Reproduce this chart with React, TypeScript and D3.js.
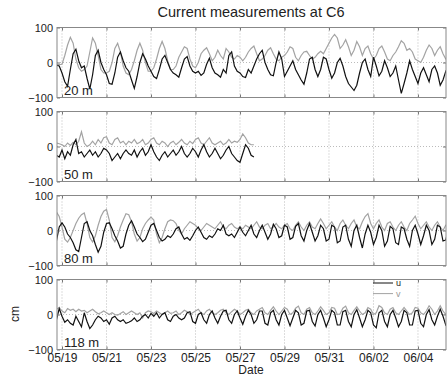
import * as d3 from "d3";
import { useRef, useEffect } from "react";

// tick labels and depths
const tickLabels = ["05/19", "05/21", "05/23", "05/25", "05/27", "05/29", "05/31", "06/02", "06/04"];
const depths = ["20 m", "50 m", "80 m", "118 m"];
const yTicks = [-100, 0, 100];

// 3-hourly samples starting 05/18 18:00 (cm/s)
const u20 = [-8, -10,
  -30, -55, -68, -20, 25, 38, 5, -15,
  -10, -45, -76, -35, 20, 35, 0, -20,
  -35, -60, -62, -30, 15, 30, 5, -15,
  -25, -50, -74, -40, 0, 25, 10, -10,
  -25, -40, -46, -20, 10, 20, 0, -20,
  -30, -35, -42, -15, 10, 17, -10, -25,
  -30, -25, -37, -30, -5, 12, -15, -30,
  -35, -42, -20, -30, 20, 30, -10, -25,
  -30, -40, -43, -20, -30, -10, 10, 25,
  35, 0, -20, -35, -38, 0, 30, 10,
  -40, -25, -10, 5, -20, -35, -50, -62,
  -30, 10, 15, -20, -40, -20, 15, 10,
  -20, -45, -30, 0, 12, -10, -40, -60,
  -70, -80, -65, -30, 0, 10, -20, -40,
  15, -10, -38, -25, 5, -15, -40, -30,
  -10, -50, -88, -60, -30, 5, -20, -40,
  -60, -30, -15, -35, -55, -20, -10, -30,
  -65, -50, -25, -40];
const v20 = [-5, -6,
  -5, 20, 50, 72, 55, 10, -15, -25,
  -20, -10, 30, 70, 55, 20, -20, -30,
  -30, -25, 0, 40, 55, 30, -10, -30,
  -35, -20, 5, 35, 55, 35, 0, -25,
  -25, -15, 10, 40, 60, 40, 5, -20,
  -20, -10, 15, 30, 45, 40, 10, -10,
  -15, 0, 25, 35, 42, 25, 5, 15,
  35, 20, 10, 40, 30, 15, 10, 20,
  15, 5, 15, 30, 40, 47, 25, 5,
  10, 20, 35, 42, 25, 10, 5, 15,
  20, 30, 45, 40, 15, 5, 20, 30,
  32, 20, 10, 15, 25, 32, 25, 40,
  55, 70, 80, 70, 40, 50, 65, 45,
  20, 35, 60, 45, 20, 40, 47, 25,
  10, 20, 40, 47, 30, 10, 5, 20,
  30, 45, 62, 55, 35, 40, 30, 10,
  5, 0, 15, 35, 50, 40, 20, 35,
  45, 25, 10, 5];
const u50 = [-25, -30,
  -10, -35, -15, -25, 5, 20, -20, -15,
  -30, -20, -10, -25, -15, -30, -20, -5,
  -10, -20, -40, -30, -20, -35, -20, -10,
  -20, -25, -10, -30, -15, -5, -25, -15,
  5, -15, -30, -40, -25, -15, -30, -20,
  -10, -25, -15, 0, -20, -30, -20, -5,
  -15, -30, -10, 5, -15, -30, -20, -5,
  -20, -35, -25, -10, 0, -20, -30, -40,
  -45, -20, 5, -5, -25, -30];
const v50 = [10, 8,
  5, 0, 10, 3, 12, 5, 15, 42,
  10, 0, 5, 15, 5, 20, 10, 25,
  28, 10, 5, 20, 25, 10, 15, 5,
  15, 10, 20, 8, 12, 20, 5, 10,
  20, 25, 10, 5, 15, 10, 0, 10,
  15, 5, 12, 20, 10, 5, 15, 8,
  20, 25, 10, 5, 15, 25, 10, 5,
  10, 15, 5, 10, 20, 10, 15, 12,
  20, 36, 25, 10, 5, 5];
const u80 = [-30, 10,
  22, 10, -10, -20, -35, -55, -60, -20,
  20, 25, 0, -15, -40, -62, -45, -5,
  20, 22, 5, -15, -30, -50, -45, -10,
  15, 28, 10, -10, -20, -32, -25, -5,
  15, 20, 0, -20, -30, -25, -15, -20,
  -10, 5, 10, -10, -25, -20, -28, -15,
  0, 10, -5, -20, -25, -15, -20, -10,
  5, 0, 15, -10, -15, -10, -20, -5,
  10, -5, -15, 0, 15, -10, -20, 0,
  15, -5, -25, -10, 18, 5, -20, -15,
  15, 10, -25, -20, 12, 20, -15, -30,
  0, 20, -5, -30, -15, 15, 5, -30,
  -25, 15, 10, -35, -30, 10, 15, -25,
  -45, 0, 15, -20, -50, -10, 15, -5,
  -40, -20, 15, 0, -45, -30, 12, 5,
  -35, -40, 10, 5, -25, -45, 0, 15,
  -10, -40, -15, 15, 0, -40, -25, 15,
  10, -30, -27, 5];
const v80 = [53, 40,
  10, -25, -33, -20, 0, 20, 35, 45,
  50, 20, -20, -33, -15, 15, 40, 55,
  60, 30, -20, -32, -15, 10, 30, 48,
  45, 25, -10, -30, -20, 5, 20, 30,
  38, 30, -10, -35, -20, 5, 25, 30,
  28, 20, 0, -10, 5, 15, 25, 20,
  15, 5, 0, 10, 20, 15, 10, 5,
  15, 25, 10, 5, 15, 20, 10, 5,
  10, 5, 15, 10, 5, 15, 25, 10,
  5, 15, 20, 5, 10, 20, 10, 5,
  15, 20, 5, 0, 15, 25, 10, 0,
  15, 25, 10, 5, 20, 33, 20, 5,
  15, 25, 10, 0, 20, 30, 15, 5,
  20, 30, 10, 5, 25, 40, 48, 20,
  5, 20, 30, 10, 0, 20, 25, 10,
  0, 15, 25, 10, 0, 20, 30, 41,
  20, 5, 15, 25, 10, 0, 15, 25,
  10, 0, 15, 20];
const u118 = [-15, 17,
  -5, -22, -15, -25, -30, -5, -20, -35,
  5, -20, -40, -30, -15, -5, -10, -20,
  -15, -28, -10, -5, -15, -20, -15, -25,
  -22, -18, -10, -20, -15, -5, 0, -10,
  3, -5, 5, -10, 0, 5, -15, -20,
  -5, 0, -10, -15, -10, 5, 8, -20,
  -25, 0, 5, -15, -25, 0, 10, -10,
  -25, -5, 10, 12, -15, -25, 0, 10,
  -10, -28, -5, 12, 0, -25, -15, 10,
  10, -25, -30, 5, 12, -15, -30, 0,
  12, -10, -32, -10, 12, 5, -30, -25,
  10, 12, -20, -33, 0, 12, -10, -35,
  -15, 12, 5, -30, -30, 8, 12, -20,
  -35, 0, 14, -10, -35, -15, 12, 5,
  -30, -38, 5, 12, -20, -35, 0, 12,
  -10, -35, -20, 12, 5, -30, -30, 10,
  12, -25, -35, 0, 14, -15, -30, -5,
  15, -5, -30, -20];
const v118 = [15, 20,
  10, 5, 17, 12, 15, 8, 15, 10,
  12, 5, 10, 15, 8, 2, 5, 10,
  5, 0, 5, 0, -2, 3, 8, 0,
  5, 10, 5, 0, 5, -10, 5, 10,
  8, 3, 10, 5, 0, 5, 10, 3,
  5, 10, 0, 5, 12, 8, 0, 5,
  10, 15, 5, 0, 10, 15, 5, 0,
  5, 12, 15, 5, 0, 8, 15, 10,
  0, 5, 12, 15, 5, 0, 10, 15,
  20, 5, 0, 12, 22, 10, 0, 10,
  20, 15, 0, 5, 18, 24, 5, 0,
  15, 20, 5, 0, 10, 22, 12, 0,
  5, 20, 18, 0, 2, 18, 24, 5,
  0, 12, 22, 10, 0, 5, 20, 15,
  0, 5, 25, 20, 5, 0, 15, 20,
  5, 0, 10, 20, 10, 0, 5, 20,
  18, 5, 0, 10, 25, 15, 0, 10,
  25, 10, 0, 5];

const uSeries = [u20, u50, u80, u118];
const vSeries = [v20, v50, v80, v118];

const font = "'Liberation Sans', Arial, Helvetica, sans-serif";

export default function App() {
  const svgRef = useRef<SVGSVGElement>(null);

  useEffect(() => {
    const svg = d3.select(svgRef.current);
    svg.selectAll("*").remove();

    const left = 57, right = 446, ph = 70;
    const tops = [27.5, 111.5, 195.5, 279.5];
    const parse = d3.utcParse("%Y/%m/%d %H:%M");
    const t0 = parse("2011/05/18 18:00")!.getTime();
    const step = 3 * 3600 * 1000;
    const tickDates = tickLabels.map((l) => parse("2011/" + l + " 00:00")!);

    const x = d3.scaleUtc()
      .domain([parse("2011/05/18 18:36")!, parse("2011/06/05 06:14")!])
      .range([left, right]);
    const y = d3.scaleLinear().domain([-100, 100]).range([ph, 0]);

    svg.append("defs").append("clipPath").attr("id", "plotclip")
      .append("rect").attr("x", left).attr("y", 0).attr("width", right - left).attr("height", ph);

    tops.forEach((top, k) => {
      const g = svg.append("g").attr("transform", `translate(0,${top})`);

      // grid
      g.selectAll(".vg").data(tickDates).enter().append("line")
        .attr("x1", (d) => x(d)).attr("x2", (d) => x(d))
        .attr("y1", 0).attr("y2", ph)
        .attr("stroke", "#aaa").attr("stroke-width", 0.8).attr("stroke-dasharray", "1,2");
      g.append("line").attr("x1", left).attr("x2", right).attr("y1", y(0)).attr("y2", y(0))
        .attr("stroke", "#aaa").attr("stroke-width", 0.8).attr("stroke-dasharray", "1,2");

      const line = d3.line<number>()
        .x((_, i) => x(new Date(t0 + i * step)))
        .y((d) => y(d));

      const plot = g.append("g").attr("clip-path", "url(#plotclip)");
      plot.append("path").datum(vSeries[k]).attr("d", line)
        .attr("fill", "none").attr("stroke", "#a3a3a3").attr("stroke-width", 1.2);
      plot.append("path").datum(uSeries[k]).attr("d", line)
        .attr("fill", "none").attr("stroke", "#111").attr("stroke-width", 1.2);

      // axes with inward ticks
      const noLab = () => "";
      const top_ = g.append("g").call(d3.axisTop(x).tickValues(tickDates).tickSize(-3).tickFormat(noLab));
      const bot = g.append("g").attr("transform", `translate(0,${ph})`)
        .call(d3.axisBottom(x).tickValues(tickDates).tickSize(-3).tickPadding(4)
          .tickFormat(k === 3 ? (_d, i) => tickLabels[i] : noLab));
      const lft = g.append("g").attr("transform", `translate(${left},0)`)
        .call(d3.axisLeft(y).tickValues(yTicks).tickSize(-3).tickPadding(4));
      const rgt = g.append("g").attr("transform", `translate(${right},0)`)
        .call(d3.axisRight(y).tickValues(yTicks).tickSize(-3).tickFormat(noLab));
      [top_, bot, lft, rgt].forEach((a) => {
        a.select(".domain").remove();
        a.selectAll("line").attr("stroke", "#777");
        a.selectAll("text").attr("font-family", font).attr("font-size", 11).attr("fill", "#222");
      });
      bot.selectAll("text").attr("font-size", 12);

      g.append("rect").attr("x", left).attr("y", 0).attr("width", right - left).attr("height", ph)
        .attr("fill", "none").attr("stroke", "#888").attr("stroke-width", 1);

      g.append("text").attr("x", 64).attr("y", ph - 2.5).text(depths[k])
        .attr("font-family", font).attr("font-size", 13).attr("fill", "#222");
    });

    // legend in last panel
    const lg = svg.append("g").attr("transform", `translate(0,${tops[3]})`);
    const legend = [{ n: "u", c: "#111" }, { n: "v", c: "#a3a3a3" }];
    legend.forEach((l, i) => {
      lg.append("line").attr("x1", 373).attr("x2", 393).attr("y1", 3.5 + i * 10.6).attr("y2", 3.5 + i * 10.6)
        .attr("stroke", l.c).attr("stroke-width", 1);
      lg.append("text").attr("x", 396).attr("y", 6.5 + i * 10.6).text(l.n)
        .attr("font-family", font).attr("font-size", 9).attr("fill", i === 0 ? "#222" : "#999");
    });

    svg.append("text").attr("x", 251).attr("y", 17).attr("text-anchor", "middle")
      .text("Current measurements at C6").attr("font-family", font).attr("font-size", 14.5).attr("fill", "#222");
    svg.append("text").attr("x", 251).attr("y", 374).attr("text-anchor", "middle")
      .text("Date").attr("font-family", font).attr("font-size", 12).attr("fill", "#222");
    svg.append("text").attr("transform", "translate(19,314) rotate(-90)").attr("text-anchor", "middle")
      .text("cm").attr("font-family", font).attr("font-size", 12).attr("fill", "#222");
  }, []);

  return (
    <svg ref={svgRef} width={447} height={376}
      style={{ position: "absolute", left: 0, top: 0, background: "#fff" }} />
  );
}
